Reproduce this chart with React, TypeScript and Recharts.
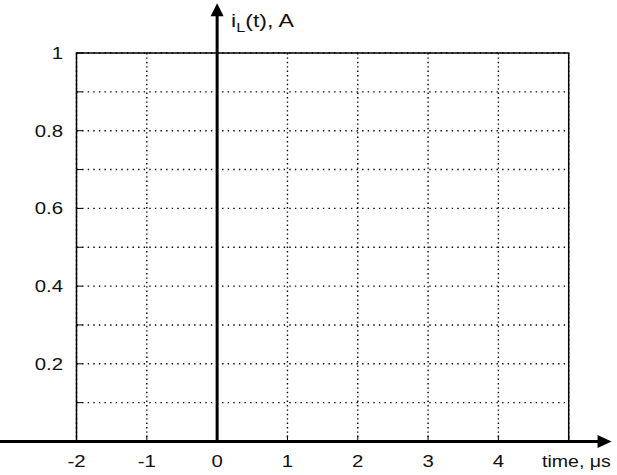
import React from 'react';
import { LineChart, XAxis, YAxis, CartesianGrid, ReferenceLine, ReferenceArea } from 'recharts';

const xTicks = [-2, -1, 0, 1, 2, 3, 4, 5];
const xLabelTicks = [-2, -1, 0, 1, 2, 3, 4];
const yTicks = [0, 0.1, 0.2, 0.3, 0.4, 0.5, 0.6, 0.7, 0.8, 0.9, 1];
const yLabelTicks = [0.2, 0.4, 0.6, 0.8, 1];
const xDomain = [-2, 5];
const yDomain = [0, 1];
const xAxisSpan = [-3.09, 5.61];
const yAxisTop = 1.128;

const FONT = '"Liberation Sans", Arial, sans-serif';
const TICK_LEN = 6;
const SX = 1.2;

const BottomTick = (props: any) => {
  const { x, y, payload } = props;
  const v = payload.value;
  return (
    <g>
      <line x1={x} y1={y} x2={x} y2={y - TICK_LEN} stroke="#000" strokeWidth={1} />
      {xLabelTicks.includes(v) && (
        <text
          transform={`translate(${x},${y + 25.5}) scale(${SX},1)`}
          textAnchor="middle"
          fontFamily={FONT}
          fontSize={17}
          fill="#111"
        >
          {String(v)}
        </text>
      )}
    </g>
  );
};

const TopTick = (props: any) => {
  const { x, y } = props;
  return <line x1={x} y1={y} x2={x} y2={y + TICK_LEN} stroke="#000" strokeWidth={1} />;
};

const LeftTick = (props: any) => {
  const { x, y, payload } = props;
  const v = payload.value;
  const show = yLabelTicks.some((t) => Math.abs(t - v) < 1e-9);
  return (
    <g>
      <line x1={x} y1={y} x2={x + TICK_LEN} y2={y} stroke="#000" strokeWidth={1} />
      {show && (
        <text
          transform={`translate(${x - 13.5},${y + 6}) scale(${SX},1)`}
          textAnchor="end"
          fontFamily={FONT}
          fontSize={17}
          fill="#111"
        >
          {String(v)}
        </text>
      )}
    </g>
  );
};

const RightTick = (props: any) => {
  const { x, y } = props;
  return <line x1={x} y1={y} x2={x - TICK_LEN} y2={y} stroke="#000" strokeWidth={1} />;
};

const XArrow = (props: any) => {
  const { x1, y1, x2, y2 } = props;
  return (
    <g>
      <line x1={x1} y1={y1} x2={x2 - 12} y2={y2} stroke="#000" strokeWidth={3} />
      <polygon points={`${x2},${y2} ${x2 - 14},${y2 - 6.5} ${x2 - 14},${y2 + 6.5}`} fill="#000" />
    </g>
  );
};

const YArrow = (props: any) => {
  const { x1, y1, x2, y2 } = props;
  const top = Math.min(y1, y2);
  const bot = Math.max(y1, y2);
  return (
    <g>
      <line x1={x1} y1={bot} x2={x2} y2={top + 12} stroke="#000" strokeWidth={3} />
      <polygon points={`${x1},${top} ${x1 - 6.5},${top + 13} ${x1 + 6.5},${top + 13}`} fill="#000" />
    </g>
  );
};

const HLine = (p: any) => (
  <line
    key={p.key}
    x1={p.x1}
    y1={p.y1}
    x2={p.x2}
    y2={p.y2}
    stroke="#000"
    strokeWidth={1.4}
    strokeDasharray="1.4 4.2"
    fill="none"
  />
);

const VLine = (p: any) => (
  <line
    key={p.key}
    x1={p.x1}
    y1={p.y1}
    x2={p.x2}
    y2={p.y2}
    stroke="#000"
    strokeWidth={1.4}
    strokeDasharray="1.4 3"
    fill="none"
  />
);

export default function App() {
  return (
    <div style={{ position: 'absolute', left: 0, top: 0, width: 617, height: 475, background: '#fff' }}>
      <LineChart
        width={617}
        height={475}
        data={[]}
        margin={{ top: 53, right: 48.3, bottom: 0, left: 16.5 }}
      >
        <CartesianGrid
          xAxisId="x"
          yAxisId="l"
          stroke="#000"
          strokeWidth={1}
          strokeDasharray="1.2 4"
          horizontal={HLine as any}
          vertical={VLine as any}
        />
        <XAxis
          xAxisId="x"
          type="number"
          dataKey="x"
          domain={xDomain}
          ticks={xTicks}
          interval={0}
          axisLine={false}
          tickLine={false}
          tickSize={0}
          tickMargin={0}
          height={33.5}
          tick={<BottomTick />}
          allowDataOverflow
        />
        <XAxis
          xAxisId="t"
          orientation="top"
          type="number"
          dataKey="x"
          domain={xDomain}
          ticks={xTicks}
          interval={0}
          axisLine={false}
          tickLine={false}
          tickSize={0}
          tickMargin={0}
          height={0}
          tick={<TopTick />}
          allowDataOverflow
        />
        <YAxis
          yAxisId="l"
          type="number"
          domain={yDomain}
          ticks={yTicks}
          interval={0}
          axisLine={false}
          tickLine={false}
          tickSize={0}
          tickMargin={0}
          width={60}
          tick={<LeftTick />}
          allowDataOverflow
        />
        <YAxis
          yAxisId="r"
          orientation="right"
          type="number"
          domain={yDomain}
          ticks={yTicks}
          interval={0}
          axisLine={false}
          tickLine={false}
          tickSize={0}
          tickMargin={0}
          width={0}
          tick={<RightTick />}
          allowDataOverflow
        />
        <ReferenceArea
          xAxisId="x"
          yAxisId="l"
          x1={xDomain[0]}
          x2={xDomain[1]}
          y1={yDomain[0]}
          y2={yDomain[1]}
          fill="none"
          fillOpacity={0}
          stroke="#000"
          strokeWidth={1.5}
          ifOverflow="visible"
        />
        <ReferenceLine
          xAxisId="x"
          yAxisId="l"
          segment={[{ x: xAxisSpan[0], y: 0 }, { x: xAxisSpan[1], y: 0 }]}
          ifOverflow="visible"
          shape={(p: any) => <XArrow {...p} />}
        />
        <ReferenceLine
          xAxisId="x"
          yAxisId="l"
          segment={[{ x: 0, y: 0 }, { x: 0, y: yAxisTop }]}
          ifOverflow="visible"
          shape={(p: any) => <YArrow {...p} />}
        />
        <text transform={`translate(231,26.5) scale(1.25,1)`} fontFamily={FONT} fontSize={18.5} fill="#111">
          i<tspan fontSize={13} dy={5}>L</tspan>
          <tspan dy={-5}>(t), A</tspan>
        </text>
        <text transform={`translate(542,467.3) scale(1.15,1)`} fontFamily={FONT} fontSize={17} fill="#111">
          time, μs
        </text>
      </LineChart>
    </div>
  );
}
